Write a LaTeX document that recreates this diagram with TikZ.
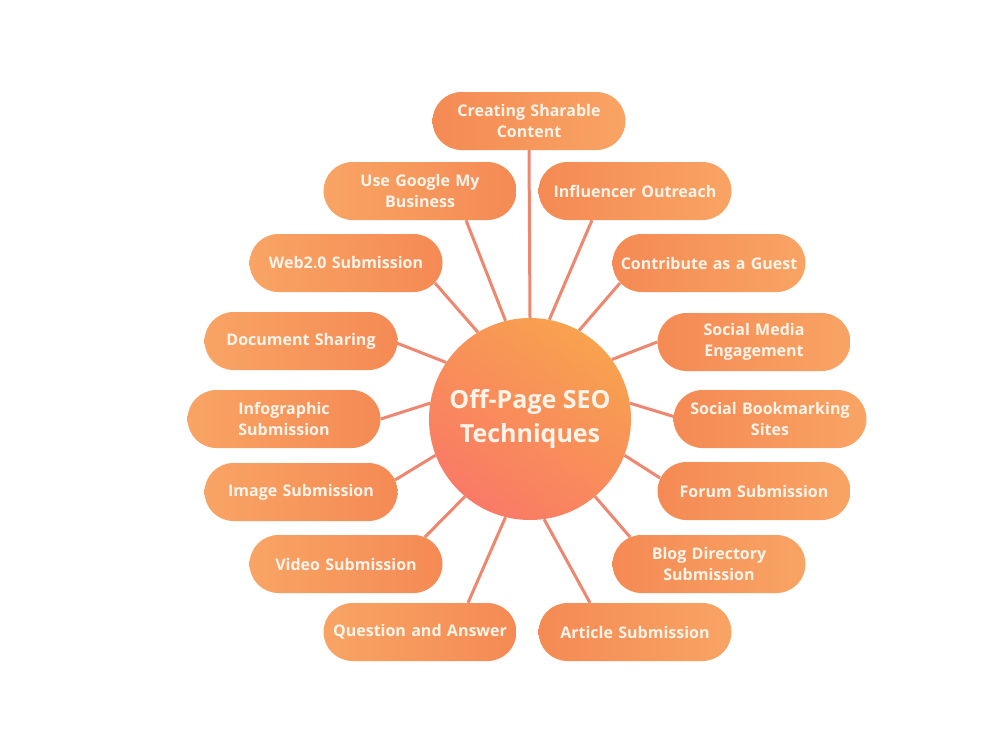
\documentclass[tikz,border=0pt]{standalone}
\usepackage{fontspec}
\setmainfont{Open Sans}
\usetikzlibrary{calc,backgrounds}
\definecolor{boxdark}{HTML}{F58A54}
\definecolor{boxlight}{HTML}{F8A464}
\definecolor{circtop}{HTML}{F8A24E}
\definecolor{circbot}{HTML}{F97A66}
\definecolor{txt}{HTML}{FFF4EA}
\definecolor{linec}{HTML}{EE8770}
\tikzset{
  box/.style={rounded corners=29pt, minimum width=193pt, minimum height=58pt,
    text width=185pt, align=center, inner sep=0pt, text=txt,
    font=\bfseries\fontsize{16}{21.5}\selectfont},
  boxL/.style={box, left color=boxlight, right color=boxdark},
  boxR/.style={box, left color=boxdark, right color=boxlight},
  hub/.style={circle, minimum size=202pt, inner sep=0pt, text=txt, align=center,
    top color=circtop, bottom color=circbot, shading angle=-35,
    font=\bfseries\fontsize{25}{34}\selectfont},
  link/.style={draw=linec, line width=3pt}
}
\begin{document}
\begin{tikzpicture}[x=1pt,y=-1pt]
\useasboundingbox (0,0) rectangle (1000,750);
\node[hub] (c) at (530,419) {Off-Page SEO\\Techniques};
\node[boxR] (n1) at (529,121) {Creating Sharable\\Content};
\node[boxL] (n2) at (420,191) {Use Google My\\Business};
\node[boxR] (n3) at (635,191) {Influencer Outreach};
\node[boxL] (n4) at (346,263) {Web2.0 Submission};
\node[boxR] (n5) at (709,263) {Contribute as a Guest};
\node[boxL] (n6) at (301,341) {Document Sharing};
\node[boxR] (n7) at (754,342) {Social Media\\Engagement};
\node[boxL] (n8) at (284,419) {Infographic\\Submission};
\node[boxR] (n9) at (770,419) {Social Bookmarking\\Sites};
\node[boxL] (n10) at (301,492) {Image Submission};
\node[boxR] (n11) at (754,491) {Forum Submission};
\node[boxL] (n12) at (346,564) {Video Submission};
\node[boxR] (n13) at (709,564) {Blog Directory\\Submission};
\node[boxL] (n14) at (420,632) {Question and Answer};
\node[boxR] (n15) at (635,632) {Article Submission};
\begin{scope}[on background layer]
\fill[white] (0,0) rectangle (1000,750);
\draw[link] (n1.south) -- (c.90);
\draw[link] ($(n2.south)+(46,0)$) -- (c.104);
\draw[link] ($(n3.south)+(-43,0)$) -- (c.79);
\draw[link] ($(n4.center)+(89,20)$) -- (c.121);
\draw[link] ($(n5.center)+(-89,20)$) -- (c.61);
\draw[link] ($(n6.east)+(-1,2)$) -- (c.146);
\draw[link] (n7.west) -- (c.36);
\draw[link] (n8.east) -- (c.171);
\draw[link] ($(n9.west)+(2,-2)$) -- (c.9);
\draw[link] ($(n10.center)+(94,-12)$) -- (c.201);
\draw[link] ($(n11.center)+(-94,-13)$) -- (c.-21);
\draw[link] ($(n12.center)+(79,-27)$) -- (c.230);
\draw[link] ($(n13.center)+(-79,-27)$) -- (c.-50);
\draw[link] ($(n14.north)+(48,0)$) -- (c.256);
\draw[link] ($(n15.north)+(-45,0)$) -- (c.-82);
\end{scope}
\end{tikzpicture}
\end{document}
